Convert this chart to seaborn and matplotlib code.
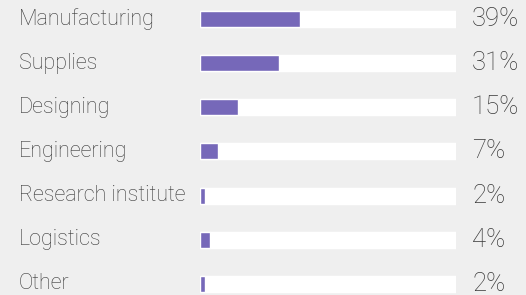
import matplotlib
matplotlib.use("Agg")
import matplotlib.pyplot as plt
import matplotlib.transforms as mtransforms
import pandas as pd
import seaborn as sns

categories = ["Manufacturing", "Supplies", "Designing", "Engineering",
              "Research institute", "Logistics", "Other"]
shares = [39, 31, 15, 7, 2, 4, 2]
track_max = [100] * len(categories)

BG = "#efefef"
BAR = "#7668b9"
TXT = "#383838"

sns.set_theme(style="white")
plt.rcParams["font.family"] = ["Roboto", "DejaVu Sans"]

df = pd.DataFrame({"category": categories, "share": shares, "track": track_max})

fig = plt.figure(figsize=(5.26, 2.95), dpi=100, facecolor=BG)
ax = fig.add_axes([200 / 526, 0, 256 / 526, 1])
ax.set_facecolor(BG)

# white track behind each bar
sns.barplot(data=df, x="track", y="category", orient="h", color="white",
            width=0.362, saturation=1, ax=ax)
sns.barplot(data=df, x="share", y="category", orient="h", color=BAR,
            width=0.362, saturation=1, ax=ax)

ax.set_xlim(0, 100)
ax.set_ylim(6.25, -0.43)
ax.set_axis_off()

trans = mtransforms.blended_transform_factory(fig.transFigure, ax.transData)
for i, (cat, val) in enumerate(zip(categories, shares)):
    ax.text(19 / 526, i, cat, transform=trans, ha="left", va="center",
            fontsize=15.5, fontweight="light", color=TXT)
    ax.text(472 / 526, i, f"{val}%", transform=trans, ha="left", va="center",
            fontsize=18.5, fontweight="light", color=TXT)

fig.savefig("out.png", dpi=100, facecolor=BG)
